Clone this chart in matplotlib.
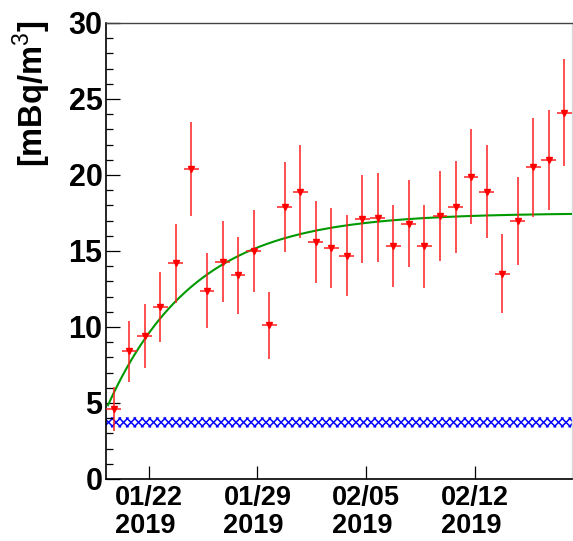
import numpy as np
import pandas as pd
import matplotlib
matplotlib.use("Agg")
import matplotlib.pyplot as plt
import matplotlib.dates as mdates
from matplotlib.ticker import MultipleLocator, FixedLocator
from matplotlib.patches import Rectangle
from matplotlib.collections import LineCollection
from matplotlib.transforms import IdentityTransform

plt.rcParams["font.family"] = ["Liberation Sans", "DejaVu Sans"]
plt.rcParams["mathtext.fontset"] = "custom"
plt.rcParams["mathtext.rm"] = "Liberation Sans"
plt.rcParams["mathtext.bf"] = "Liberation Sans:bold"

# Daily concentration measurements (one per day, sampled in the evening)
dates = pd.date_range("2019-01-19 18:00", periods=30, freq="D")
concentration = [4.6, 8.4, 9.4, 11.3, 14.2, 20.4, 12.4, 14.3, 13.4, 15.0,
                 10.1, 17.9, 18.9, 15.6, 15.2, 14.7, 17.1, 17.2, 15.3, 16.8,
                 15.3, 17.3, 17.9, 19.9, 18.9, 13.5, 17.0, 20.5, 21.0, 24.1]
uncertainty = [1.45, 2.0, 2.1, 2.3, 2.6, 3.1, 2.45, 2.65, 2.55, 2.7,
               2.2, 2.95, 3.05, 2.7, 2.65, 2.65, 2.9, 2.9, 2.7, 2.85,
               2.75, 2.95, 3.0, 3.15, 3.05, 2.6, 2.9, 3.25, 3.3, 3.5]
bin_half_width_days = 0.48

# Ingrowth fit: y(t) = y_inf - (y_inf - y_start) * exp(-(t - t_start) / tau)
fit_start = "2019-01-19 09:00"
fit_end = "2019-02-18 06:00"
fit_y_start = 4.85
fit_y_inf = 17.5
fit_tau_days = 5.6

# Background level band
background_low = 3.4
background_high = 4.05

# Axis ranges and ticks
x_range = ("2019-01-19 06:00", "2019-02-18 06:00")
y_range = (0, 30)
x_tick_dates = ["2019-01-22", "2019-01-29", "2019-02-05", "2019-02-12"]
x_tick_labels = ["01/22\n2019", "01/29\n2019", "02/05\n2019", "02/12\n2019"]

fig = plt.figure(figsize=(5.73, 5.41), dpi=100)
ax = fig.add_axes([106 / 573, 62 / 541, 466 / 573, 456 / 541])

x = mdates.date2num(dates)
x0, x1 = mdates.date2num(pd.to_datetime(list(x_range)))
ax.set_xlim(x0, x1)
ax.set_ylim(*y_range)

# background band: cross-hatched rectangle (hatch drawn in pixel space)
band = Rectangle((x0, background_low), x1 - x0, background_high - background_low,
                 facecolor="none", edgecolor="none", zorder=1)
ax.add_patch(band)
(px0, py0), (px1, py1) = ax.transData.transform([(x0, background_low),
                                                 (x1, background_high)])
hatch_step = 7.5
h = py1 - py0
segs = []
for c in np.arange(px0 - h - hatch_step, px1 + hatch_step, hatch_step):
    segs.append([(c, py0), (c + h, py1)])
    segs.append([(c + h, py0), (c, py1)])
hatch_lines = LineCollection(segs, colors="#0000ff", linewidths=1.1,
                             transform=IdentityTransform(), zorder=1)
hatch_lines.set_clip_path(band)
ax.add_collection(hatch_lines, autolim=False)

# fit curve
t0 = mdates.date2num(pd.Timestamp(fit_start))
t1 = mdates.date2num(pd.Timestamp(fit_end))
t = np.linspace(t0, t1, 400)
y_fit = fit_y_inf - (fit_y_inf - fit_y_start) * np.exp(-(t - t0) / fit_tau_days)
ax.plot(t, y_fit, color="#009a00", lw=1.5, zorder=3)

# data points
ax.errorbar(x, concentration, yerr=uncertainty, xerr=bin_half_width_days,
            fmt="v", color="#ff0000", ecolor="#ff2020", elinewidth=1.1,
            markersize=4.5, capsize=0, zorder=4)

ax.set_xlim(x0, x1)
ax.set_ylim(*y_range)

ax.yaxis.set_major_locator(MultipleLocator(5))
ax.yaxis.set_minor_locator(MultipleLocator(1))
ax.tick_params(axis="y", which="major", direction="in", length=10, width=0.9,
               labelsize=22, pad=2.5, left=True, right=False)
ax.tick_params(axis="y", which="minor", direction="in", length=5, width=0.9,
               left=True, right=False)
for lab in ax.get_yticklabels():
    lab.set_fontweight("bold")

ax.xaxis.set_major_locator(FixedLocator(mdates.date2num(pd.to_datetime(x_tick_dates))))
ax.set_xticklabels(x_tick_labels)
ax.xaxis.set_minor_locator(FixedLocator([]))
ax.tick_params(axis="x", which="major", direction="in", length=9.5, width=0.9,
               labelsize=19.5, pad=4, top=False, bottom=True)
for lab in ax.get_xticklabels():
    lab.set_fontweight("bold")
    lab.set_multialignment("left")
    lab.set_linespacing(1.12)

ax.spines["left"].set_linewidth(1.2)
ax.spines["bottom"].set_linewidth(1.2)
ax.spines["top"].set_color("#444444")
ax.spines["top"].set_linewidth(1.0)
ax.spines["right"].set_color("#d8d8d8")
ax.spines["right"].set_linewidth(1.0)

fig.text(32 / 573, 1 - 20 / 541, r"[mBq/m$^{3}$]", rotation=90,
         ha="center", va="top", fontsize=23.5, fontweight="bold")

fig.savefig("out.png", dpi=100)
